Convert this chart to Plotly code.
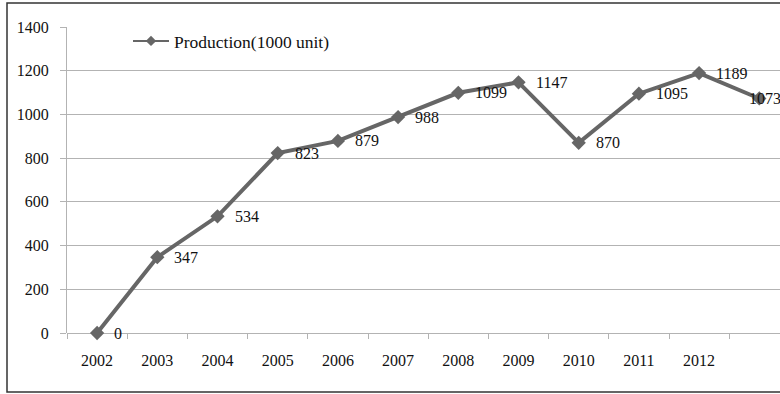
import plotly.graph_objects as go

# Annual production, thousand units
years = ["2002", "2003", "2004", "2005", "2006", "2007",
         "2008", "2009", "2010", "2011", "2012", " "]
production = [0, 347, 534, 823, 879, 988, 1099, 1147, 870, 1095, 1189, 1073]
label_shift = [15, 15, 15, 15, 15, 15, 15, 15, 15, 15, 15, -12]

y_ticks = [0, 200, 400, 600, 800, 1000, 1200, 1400]

LINE = "#666666"
GRID = "#b3b3b3"
FONT = "Liberation Serif"

W, H = 780, 394
ML, MT, MB = 67, 27, 61
plot_w = W - ML
plot_h = H - MT - MB

fig = go.Figure()
fig.add_trace(go.Scatter(
    x=years, y=production,
    mode="lines+markers",
    name="Production(1000 unit)",
    line=dict(color=LINE, width=4),
    marker=dict(symbol="diamond", size=11, color=LINE),
    cliponaxis=False,
    showlegend=False,
))
# legend entry drawn with a lighter stroke
fig.add_trace(go.Scatter(
    x=[None], y=[None],
    mode="lines+markers",
    name="Production(1000 unit)",
    line=dict(color=LINE, width=2),
    marker=dict(symbol="diamond", size=8, color=LINE),
))

for i, (val, dx) in enumerate(zip(production, label_shift)):
    fig.add_annotation(
        x=i, y=val, text=str(val), showarrow=False,
        xanchor="left", yanchor="middle", xshift=dx,
        font=dict(family=FONT, size=16, color="#111111"),
    )

# outer chart border (extends past the right edge)
def px_x(p):
    return (p - ML) / plot_w

def px_y(p):
    return (H - MB - p) / plot_h

fig.add_shape(type="rect", xref="paper", yref="paper",
              x0=px_x(7), x1=px_x(800), y0=px_y(392), y1=px_y(3),
              line=dict(color="#333333", width=1.5), layer="below")

fig.update_layout(
    width=W, height=H,
    margin=dict(l=ML, r=0, t=MT, b=MB, pad=0),
    paper_bgcolor="white", plot_bgcolor="white",
    font=dict(family=FONT, size=16, color="#111111"),
    showlegend=True,
    legend=dict(
        x=px_x(128), y=px_y(41), xanchor="left", yanchor="middle",
        bgcolor="rgba(0,0,0,0)", font=dict(family=FONT, size=17.5),
        itemwidth=36,
    ),
    xaxis=dict(
        type="category", categoryorder="array", categoryarray=years,
        range=[-0.5, (plot_w / 60.2) - 0.5],
        tickson="boundaries", ticks="outside", ticklen=5, tickcolor=GRID,
        showline=False, showgrid=False, zeroline=False,
        tickfont=dict(family=FONT, size=16),
        ticklabelstandoff=16,
    ),
    yaxis=dict(
        range=[0, 1400], tickvals=y_ticks,
        ticks="outside", ticklen=6, tickcolor=GRID,
        showline=True, linecolor=GRID, linewidth=1,
        showgrid=True, gridcolor=GRID, gridwidth=1,
        zeroline=True, zerolinecolor=GRID, zerolinewidth=1,
        tickfont=dict(family=FONT, size=16),
        ticklabelstandoff=8,
    ),
)

fig.write_html("out.html")
